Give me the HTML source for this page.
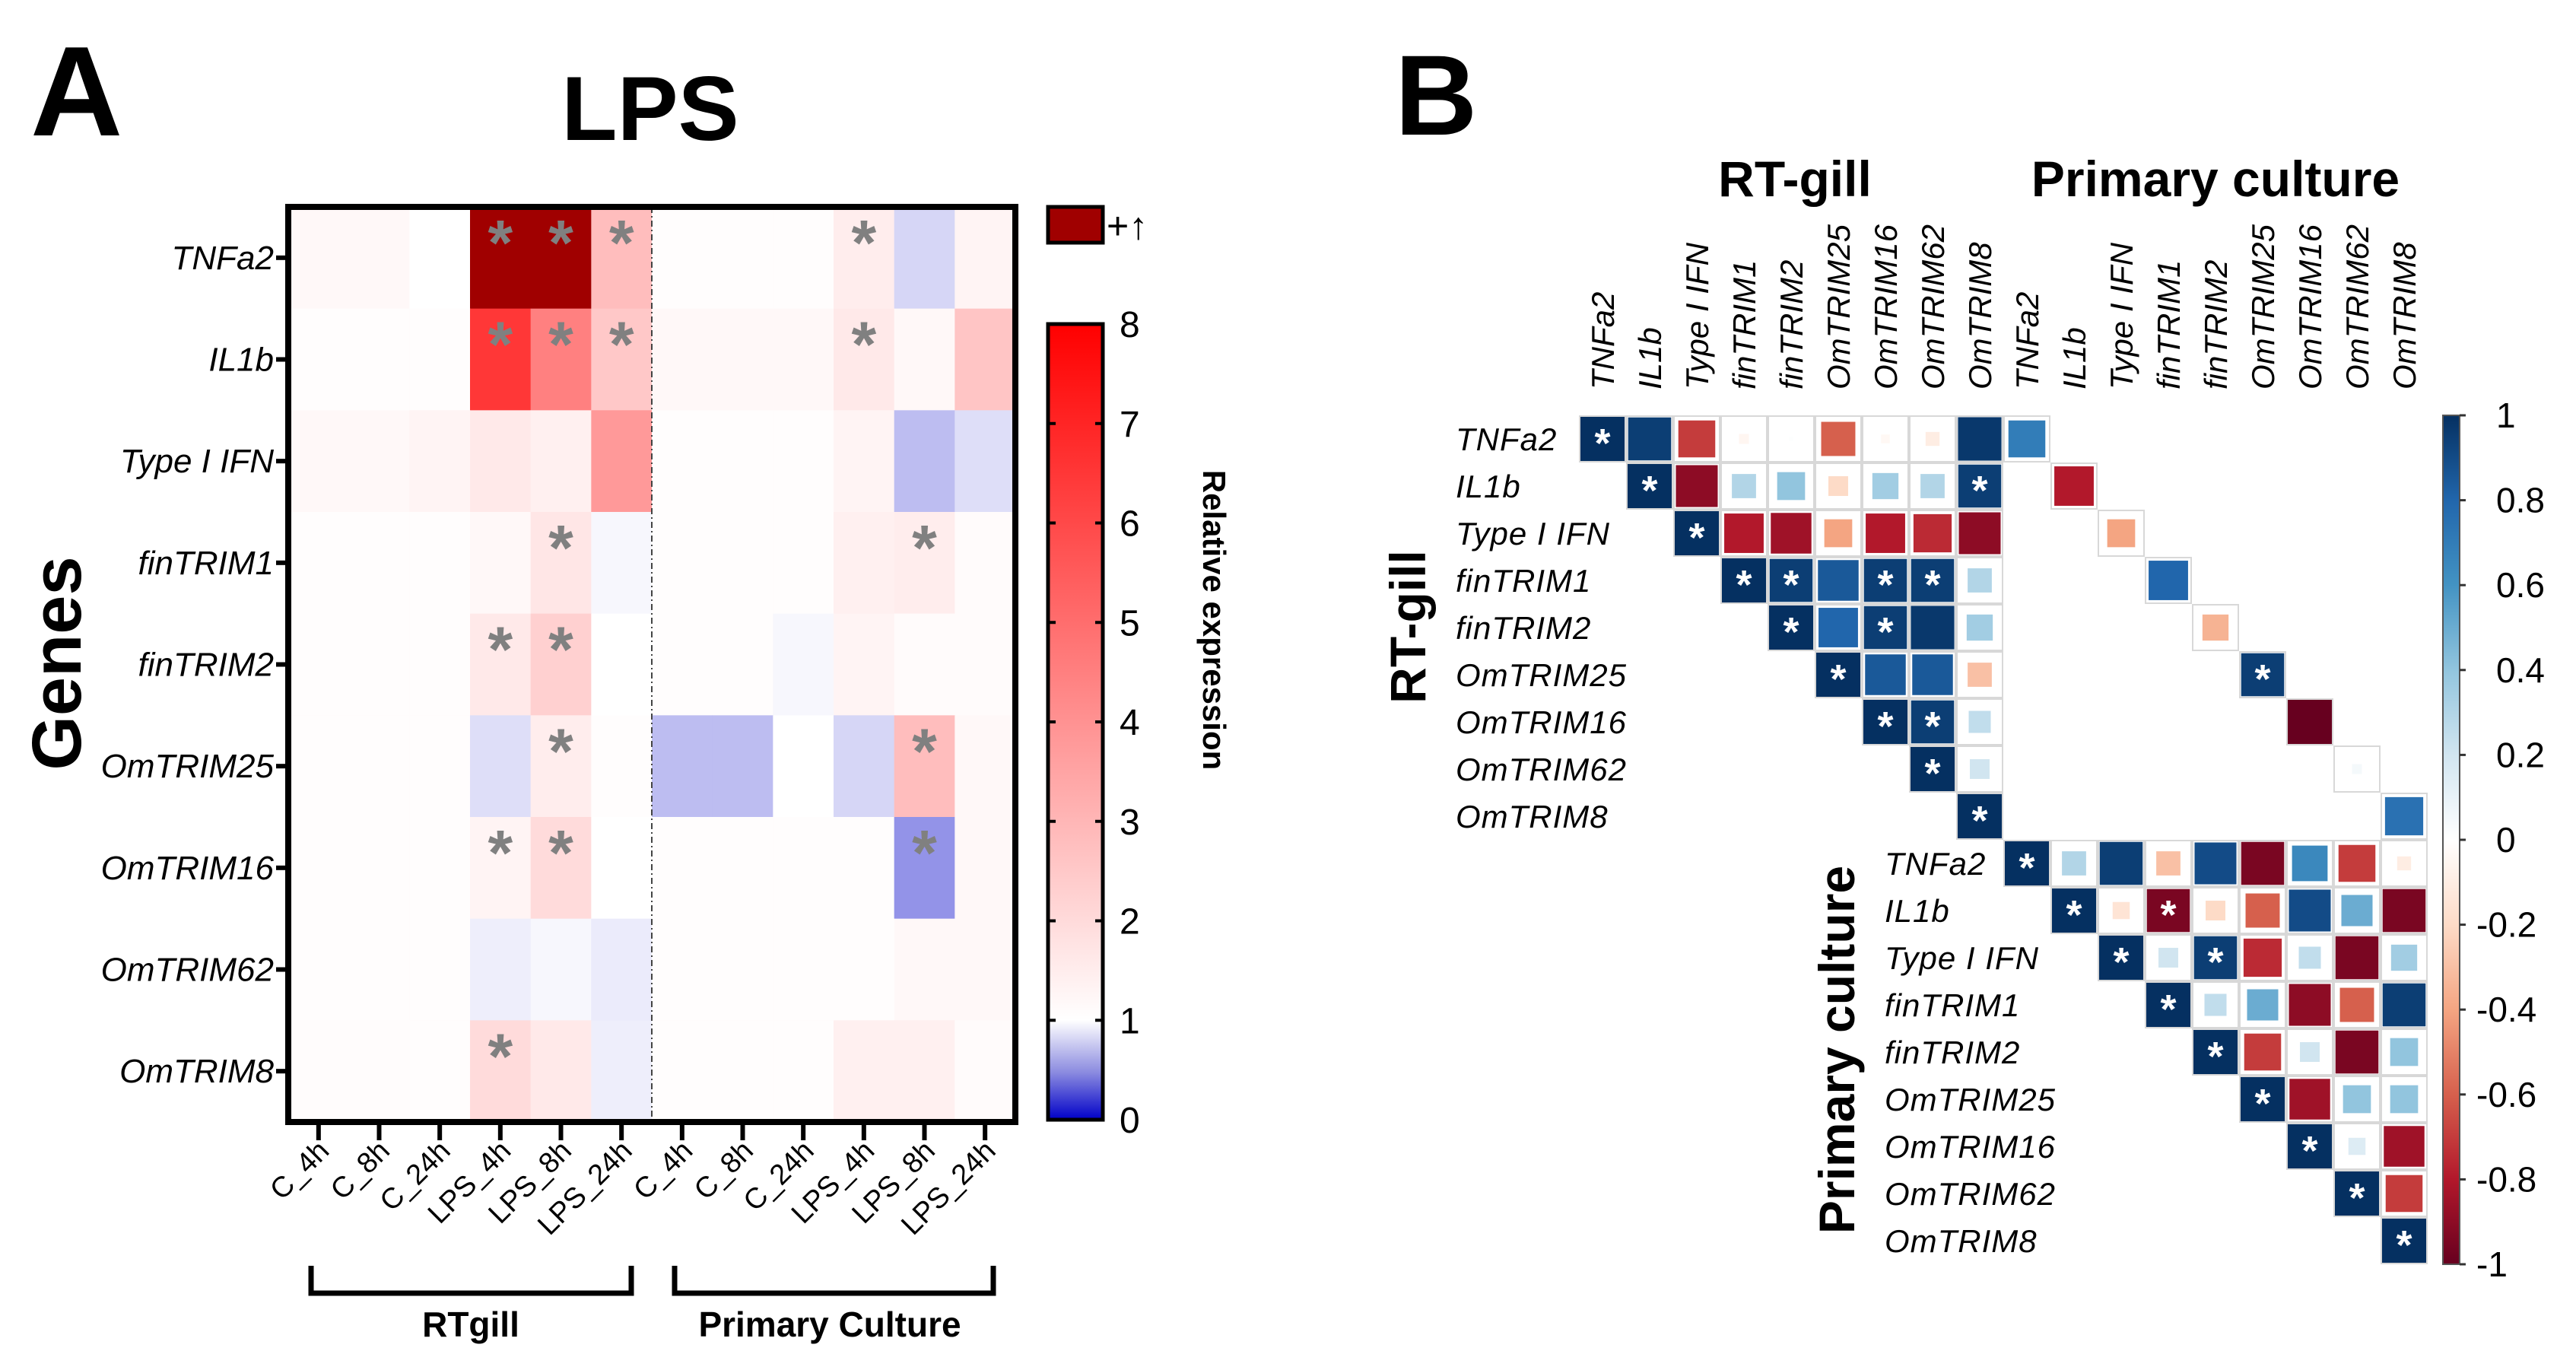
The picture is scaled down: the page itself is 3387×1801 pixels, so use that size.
<!DOCTYPE html>
<html><head><meta charset="utf-8">
<style>
html,body{margin:0;padding:0;background:#fff;}
svg{display:block;font-family:"Liberation Sans",Arial,sans-serif;}
</style></head>
<body>
<svg id="fig" xmlns="http://www.w3.org/2000/svg" width="3387" height="1801" viewBox="0 0 3387 1801">
<defs>
<linearGradient id="gA" x1="0" y1="1" x2="0" y2="0">
<stop offset="0" stop-color="#0000c8"/><stop offset="0.06" stop-color="#8c8ce0"/><stop offset="0.125" stop-color="#ffffff"/><stop offset="1" stop-color="#ff0000"/>
</linearGradient>
<linearGradient id="gB" x1="0" y1="1" x2="0" y2="0">
<stop offset="0" stop-color="#67001f"/><stop offset="0.1" stop-color="#b2182b"/><stop offset="0.2" stop-color="#d6604d"/><stop offset="0.3" stop-color="#f4a582"/><stop offset="0.4" stop-color="#fddbc7"/><stop offset="0.5" stop-color="#ffffff"/><stop offset="0.6" stop-color="#d1e5f0"/><stop offset="0.7" stop-color="#92c5de"/><stop offset="0.8" stop-color="#4393c3"/><stop offset="0.9" stop-color="#2166ac"/><stop offset="1" stop-color="#053061"/>
</linearGradient>
</defs>
<g id="panelA"></g>
<g id="panelB"></g>
</svg>
<script>
// ---------- Panel A data ----------
const genesA = ["TNFa2","IL1b","Type I IFN","finTRIM1","finTRIM2","OmTRIM25","OmTRIM16","OmTRIM62","OmTRIM8"];
const conditionsA = ["C_4h","C_8h","C_24h","LPS_4h","LPS_8h","LPS_24h","C_4h","C_8h","C_24h","LPS_4h","LPS_8h","LPS_24h"];
const rowTNFa2 = [1.2,1.2,1.0,9,9,2.8,1.05,1.05,1.05,1.5,0.75,1.3];
const rowIL1b = [1.05,1.05,1.05,6.5,4.5,2.5,1.2,1.2,1.2,1.6,1.2,2.6];
const rowIFN = [1.2,1.2,1.3,1.6,1.4,3.8,1.05,1.05,1.05,1.3,0.6,0.8];
const rowFinTRIM1 = [1.05,1.05,1.05,1.2,1.7,0.95,1.05,1.05,1.05,1.4,1.5,1.1];
const rowFinTRIM2 = [1.05,1.05,1.05,1.6,2.3,1.0,1.05,1.05,0.95,1.3,1.1,1.1];
const rowOmTRIM25 = [1.05,1.05,1.05,0.8,1.5,1.05,0.6,0.6,1.0,0.75,2.8,1.2];
const rowOmTRIM16 = [1.05,1.05,1.05,1.3,2.0,1.0,1.05,1.05,1.05,1.05,0.35,1.2];
const rowOmTRIM62 = [1.05,1.05,1.05,0.9,0.95,0.88,1.05,1.05,1.05,1.05,1.2,1.2];
const rowOmTRIM8 = [1.08,1.08,1.05,2.0,1.6,0.9,1.05,1.05,1.05,1.4,1.4,1.1];
const starsA = [[0,3],[0,4],[0,5],[0,9],[1,3],[1,4],[1,5],[1,9],[3,4],[3,10],[4,3],[4,4],[5,4],[5,10],[6,3],[6,4],[6,10],[8,3]];
const ticksA = [0,1,2,3,4,5,6,7,8];

// ---------- Panel B data ----------
const genesB = ["TNFa2","IL1b","Type I IFN","finTRIM1","finTRIM2","OmTRIM25","OmTRIM16","OmTRIM62","OmTRIM8"];
const corrRTgill = [
[0,0,1],[0,1,0.95],[0,2,-0.7],[0,3,-0.05],[0,4,0.01],[0,5,-0.6],[0,6,-0.04],[0,7,-0.1],[0,8,0.97],
[1,1,1],[1,2,-0.9],[1,3,0.3],[1,4,0.4],[1,5,-0.2],[1,6,0.35],[1,7,0.3],[1,8,0.95],
[2,2,1],[2,3,-0.8],[2,4,-0.85],[2,5,-0.4],[2,6,-0.8],[2,7,-0.75],[2,8,-0.9],
[3,3,1],[3,4,0.95],[3,5,0.85],[3,6,0.95],[3,7,0.95],[3,8,0.3],
[4,4,1],[4,5,0.8],[4,6,0.95],[4,7,0.97],[4,8,0.35],
[5,5,1],[5,6,0.85],[5,7,0.85],[5,8,-0.3],
[6,6,1],[6,7,0.95],[6,8,0.25],
[7,7,1],[7,8,0.2],
[8,8,1]];
const corrCross = [0.7,-0.8,-0.4,0.8,-0.35,0.95,-1,0.05,0.75];
const corrPrimary = [
[0,0,1],[0,1,0.3],[0,2,0.95],[0,3,-0.3],[0,4,0.9],[0,5,-0.95],[0,6,0.65],[0,7,-0.7],[0,8,-0.1],
[1,1,1],[1,2,-0.15],[1,3,-0.95],[1,4,-0.2],[1,5,-0.6],[1,6,0.9],[1,7,0.5],[1,8,-0.95],
[2,2,1],[2,3,0.2],[2,4,0.95],[2,5,-0.75],[2,6,0.25],[2,7,-0.95],[2,8,0.35],
[3,3,1],[3,4,0.25],[3,5,0.5],[3,6,-0.9],[3,7,-0.6],[3,8,0.95],
[4,4,1],[4,5,-0.7],[4,6,0.2],[4,7,-0.95],[4,8,0.4],
[5,5,1],[5,6,-0.85],[5,7,0.4],[5,8,0.4],
[6,6,1],[6,7,0.15],[6,8,-0.85],
[7,7,1],[7,8,-0.7],
[8,8,1]];
const starsB = [[1,8],[3,4],[3,6],[3,7],[4,6],[5,14],[6,7],[10,12],[11,13]];
const ticksB = [1,0.8,0.6,0.4,0.2,0,-0.2,-0.4,-0.6,-0.8,-1];

const NS="http://www.w3.org/2000/svg";
function mk(parent,tag,attrs,text){const e=document.createElementNS(NS,tag);for(const k in attrs)e.setAttribute(k,attrs[k]);if(text!==undefined)e.textContent=text;parent.appendChild(e);return e;}

// ---------- Panel A ----------
(function(){
const g=document.getElementById('panelA');
const rowsA=[rowTNFa2,rowIL1b,rowIFN,rowFinTRIM1,rowFinTRIM2,rowOmTRIM25,rowOmTRIM16,rowOmTRIM62,rowOmTRIM8];
const X0=379,X1=1335,Y0=272,Y1=1475;
const cw=(X1-X0)/conditionsA.length, ch=(Y1-Y0)/genesA.length;
const xA=i=>X0+i*cw, yA=j=>Y0+j*ch;
function colA(v){
 if(v>8) return "rgb(160,0,0)";
 if(v>=1){const t=(v-1)/7;const c=Math.round(255*(1-t));return `rgb(255,${c},${c})`;}
 const s=0.65*(1-v);return `rgb(${Math.round(255*(1-s))},${Math.round(255*(1-s))},${Math.round(255-55*s)})`;
}
let t=mk(g,'text',{x:40,y:178,'font-size':168,'font-weight':'bold'},'A');

t=mk(g,'text',{x:855,y:184,'font-size':120,'font-weight':'bold','text-anchor':'middle'},'LPS');

t=mk(g,'text',{x:0,y:0,'font-size':92,'font-weight':'bold','text-anchor':'middle',transform:'translate(106,872) rotate(-90)'},'Genes');

rowsA.forEach((row,j)=>{row.forEach((v,i)=>{
 const r=mk(g,'rect',{x:xA(i),y:yA(j),width:cw+0.5,height:ch+0.5,fill:colA(v)});
 
 
});});
starsA.forEach(([j,i])=>{
 const s=mk(g,'text',{x:xA(i)+cw/2,y:yA(j)+76,'font-size':84,'font-weight':'bold',fill:'#808080','text-anchor':'middle'},'*');
 
 
});
mk(g,'line',{x1:xA(6),y1:Y0,x2:xA(6),y2:Y1,stroke:'#444','stroke-width':2,'stroke-dasharray':'8,4,2,4'});
const fr=mk(g,'rect',{x:X0,y:Y0,width:X1-X0,height:Y1-Y0,fill:'none',stroke:'#000','stroke-width':8});

genesA.forEach((n,j)=>{
 const cy=yA(j)+ch/2;
 mk(g,'line',{x1:X0-16,y1:cy,x2:X0,y2:cy,stroke:'#000','stroke-width':6});
 const l=mk(g,'text',{x:360,y:cy+15,'font-size':44,'font-style':'italic','text-anchor':'end'},n);
 
 
});
conditionsA.forEach((n,i)=>{
 const cx=xA(i)+cw/2;
 mk(g,'line',{x1:cx,y1:Y1,x2:cx,y2:Y1+24,stroke:'#000','stroke-width':6});
 const l=mk(g,'text',{x:0,y:0,'font-size':38,'text-anchor':'end',transform:`translate(${cx+16},${Y1+40}) rotate(-45)`},n);
 
 
});
[[409,830,619,'RTgill'],[887,1306,1091,'Primary Culture']].forEach(([a,b,c,n])=>{
 const p=mk(g,'path',{d:`M${a},1664 V1700 H${b} V1664`,fill:'none',stroke:'#000','stroke-width':7});
 
 const l=mk(g,'text',{x:c,y:1757,'font-size':46,'font-weight':'bold','text-anchor':'middle'},n);
 
});
const CX=1378,CW=72,CY0=426,CY1=1472;
const box=mk(g,'rect',{x:CX,y:272,width:CW,height:47,fill:'rgb(160,0,0)',stroke:'#000','stroke-width':5});

t=mk(g,'text',{x:1455,y:314,'font-size':50},'+↑');

const cb=mk(g,'rect',{x:CX,y:CY0,width:CW,height:CY1-CY0,fill:'url(#gA)',stroke:'#000','stroke-width':5});

const yC=v=>CY1-(v/8)*(CY1-CY0);
ticksA.forEach(v=>{
 mk(g,'line',{x1:CX,y1:yC(v),x2:CX+10,y2:yC(v),stroke:'#000','stroke-width':4});
 mk(g,'line',{x1:CX+CW-10,y1:yC(v),x2:CX+CW,y2:yC(v),stroke:'#000','stroke-width':4});
 const l=mk(g,'text',{x:1472,y:yC(v)+17,'font-size':48},String(v));
 
 
});
t=mk(g,'text',{x:0,y:0,'font-size':42,'font-weight':'bold','text-anchor':'middle',transform:'translate(1582,815) rotate(90)'},'Relative expression');

})();

// ---------- Panel B ----------
(function(){
const g=document.getElementById('panelB');
const GX=2076,GY=546,C=62;
const xB=i=>GX+i*C, yB=j=>GY+j*C;
const stops=[[-1,[103,0,31]],[-0.8,[178,24,43]],[-0.6,[214,96,77]],[-0.4,[244,165,130]],[-0.2,[253,219,199]],[0,[255,255,255]],[0.2,[209,229,240]],[0.4,[146,197,222]],[0.6,[67,147,195]],[0.8,[33,102,172]],[1,[5,48,97]]];
function colB(v){for(let k=0;k<stops.length-1;k++){const [a,ca]=stops[k],[b,cb]=stops[k+1];if(v<=b){const t=(v-a)/(b-a);return `rgb(${ca.map((c,i)=>Math.round(c+(cb[i]-c)*t)).join(',')})`;}}return 'rgb(5,48,97)';}
let t=mk(g,'text',{x:1834,y:177,'font-size':150,'font-weight':'bold'},'B');

t=mk(g,'text',{x:2360,y:258,'font-size':66,'font-weight':'bold','text-anchor':'middle'},'RT-gill');

t=mk(g,'text',{x:2913,y:258,'font-size':66,'font-weight':'bold','text-anchor':'middle'},'Primary culture');

t=mk(g,'text',{x:0,y:0,'font-size':66,'font-weight':'bold','text-anchor':'middle',transform:'translate(1874,824) rotate(-90)'},'RT-gill');

t=mk(g,'text',{x:0,y:0,'font-size':66,'font-weight':'bold','text-anchor':'middle',transform:'translate(2438,1380) rotate(-90)'},'Primary culture');

const cells=[];
corrRTgill.forEach(([r,c,v])=>cells.push([r,c,v]));
corrCross.forEach((v,i)=>cells.push([i,i+9,v]));
corrPrimary.forEach(([r,c,v])=>cells.push([r+9,c+9,v]));
cells.forEach(([r,c,v])=>{
 const b=mk(g,'rect',{x:xB(c)+1,y:yB(r)+1,width:C-2,height:C-2,fill:'#fff',stroke:'#d8d8d8','stroke-width':2});
 
 
 const s=(C-4)*Math.min(1,Math.sqrt(Math.abs(v)));
 const q=mk(g,'rect',{x:xB(c)+C/2-s/2,y:yB(r)+C/2-s/2,width:s,height:s,fill:colB(v)});
 
 
});
const allStars=starsB.slice();
for(let i=0;i<18;i++)allStars.push([i,i]);
allStars.forEach(([r,c])=>{
 const s=mk(g,'text',{x:xB(c)+C/2,y:yB(r)+C/2+24,'font-size':54,'font-weight':'bold',fill:'#fff','text-anchor':'middle'},'*');
 
 
});
for(let i=0;i<18;i++){
 const n=genesB[i%9];
 const l=mk(g,'text',{x:0,y:0,'font-size':42,'font-style':'italic',transform:`translate(${xB(i)+C/2+15},512) rotate(-90)`},n);
 
 
}
genesB.forEach((n,j)=>{
 const l=mk(g,'text',{x:1914,y:yB(j)+C/2+15,'font-size':42,'font-style':'italic','letter-spacing':'1'},n);
 
 
 const l2=mk(g,'text',{x:2478,y:yB(j+9)+C/2+15,'font-size':42,'font-style':'italic','letter-spacing':'1'},n);
 
 
});
const BX=3212,BW=22,BY0=546,BY1=1662;
const cb=mk(g,'rect',{x:BX,y:BY0,width:BW,height:BY1-BY0,fill:'url(#gB)',stroke:'#555','stroke-width':2});

const yC=v=>BY1-(v+1)/2*(BY1-BY0);
ticksB.forEach(v=>{
 mk(g,'line',{x1:BX+BW,y1:yC(v),x2:BX+BW+8,y2:yC(v),stroke:'#333','stroke-width':3});
 const l=mk(g,'text',{x:v<0?3256:3282,y:yC(v)+16,'font-size':46},String(v));
 
 
});
})();
</script>
</body></html>
